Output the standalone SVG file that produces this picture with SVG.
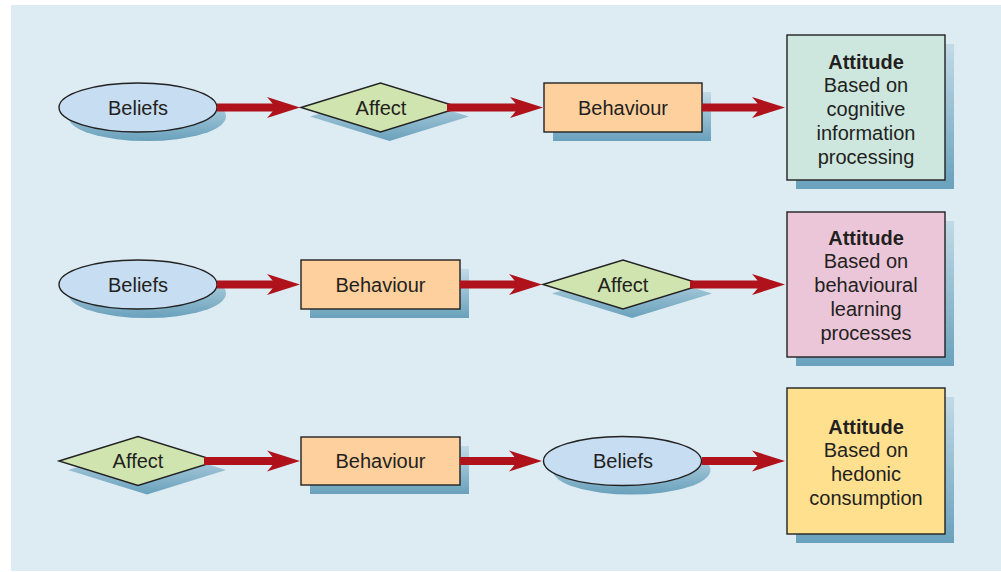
<svg xmlns="http://www.w3.org/2000/svg" width="1001" height="572" viewBox="0 0 1001 572">
<defs>
<linearGradient id="sh" x1="0" y1="0" x2="0" y2="1">
<stop offset="0" stop-color="#C2DAE6"/>
<stop offset="1" stop-color="#69A1BC"/>
</linearGradient>
<marker id="ah" markerUnits="userSpaceOnUse" markerWidth="36" markerHeight="26" viewBox="-34 -13 36 26" refX="-22" refY="0" orient="auto">
<path d="M0,0 L-33,-10.5 Q-27,-4 -25,0 Q-27,4 -33,10.5 Z" fill="#B0121B"/>
</marker>
<style>
.sh{fill:url(#sh)}
.nd{stroke:#222;stroke-width:1.4}
.el{fill:#C7DDF2}
.di{fill:#CFE4AE}
.bh{fill:#FED09E}
.a1{fill:#CDE7DF}
.a2{fill:#EBC6D8}
.a3{fill:#FFE08F}
text{font-family:"Liberation Sans",Arial,sans-serif;font-size:20px;fill:#231F20;text-anchor:middle}
.b{font-weight:bold}
.cn{stroke:#B0121B;stroke-width:8;fill:none;marker-end:url(#ah)}
</style>
</defs>
<rect x="11" y="5" width="990" height="566" fill="#DDEBF2"/>

<!-- Row 1 -->
<g id="r1-beliefs">
<ellipse class="sh" cx="147" cy="116.5" rx="79" ry="24.5"/>
<ellipse class="nd el" cx="138" cy="107.5" rx="79" ry="24.5"/>
<text x="138" y="114.5">Beliefs</text>
</g>
<g id="r1-affect">
<polygon class="sh" points="310,116.5 389.5,92 469,116.5 389.5,141"/>
<polygon class="nd di" points="301,107.5 380.5,83 460,107.5 380.5,132"/>
<text x="381" y="114.5">Affect</text>
</g>
<g id="r1-behaviour">
<rect class="sh" x="553" y="92" width="158" height="49"/>
<rect class="nd bh" x="544" y="83" width="158" height="49"/>
<text x="623" y="114.5">Behaviour</text>
</g>
<g id="r1-attitude">
<rect class="sh" x="796" y="44" width="158" height="145"/>
<rect class="nd a1" x="787" y="35" width="158" height="145"/>
<text x="866" y="68.5" class="b">Attitude</text>
<text x="866" y="92">Based on</text>
<text x="866" y="116">cognitive</text>
<text x="866" y="140">information</text>
<text x="866" y="164">processing</text>
</g>

<!-- Row 2 -->
<g id="r2-beliefs">
<ellipse class="sh" cx="147" cy="293.5" rx="79" ry="24.5"/>
<ellipse class="nd el" cx="138" cy="284.5" rx="79" ry="24.5"/>
<text x="138" y="291.5">Beliefs</text>
</g>
<g id="r2-behaviour">
<rect class="sh" x="310" y="269" width="159" height="49"/>
<rect class="nd bh" x="301" y="260" width="159" height="49"/>
<text x="380.5" y="291.5">Behaviour</text>
</g>
<g id="r2-affect">
<polygon class="sh" points="552,293.5 632,269 712,293.5 632,318"/>
<polygon class="nd di" points="543,284.5 623,260 703,284.5 623,309"/>
<text x="623" y="291.5">Affect</text>
</g>
<g id="r2-attitude">
<rect class="sh" x="796" y="221" width="158" height="145"/>
<rect class="nd a2" x="787" y="212" width="158" height="145"/>
<text x="866" y="244.5" class="b">Attitude</text>
<text x="866" y="268">Based on</text>
<text x="866" y="292">behavioural</text>
<text x="866" y="316">learning</text>
<text x="866" y="340">processes</text>
</g>

<!-- Row 3 -->
<g id="r3-affect">
<polygon class="sh" points="68,470 147,445.5 226,470 147,494.5"/>
<polygon class="nd di" points="59,461 138,436.5 217,461 138,485.5"/>
<text x="138" y="468">Affect</text>
</g>
<g id="r3-behaviour">
<rect class="sh" x="310" y="446" width="159" height="48"/>
<rect class="nd bh" x="301" y="437" width="159" height="48"/>
<text x="380.5" y="468">Behaviour</text>
</g>
<g id="r3-beliefs">
<ellipse class="sh" cx="631.5" cy="470" rx="79" ry="24.5"/>
<ellipse class="nd el" cx="622.5" cy="461" rx="79" ry="24.5"/>
<text x="623" y="468">Beliefs</text>
</g>
<g id="r3-attitude">
<rect class="sh" x="796" y="397" width="158" height="146"/>
<rect class="nd a3" x="787" y="388" width="158" height="146"/>
<text x="866" y="433.5" class="b">Attitude</text>
<text x="866" y="457">Based on</text>
<text x="866" y="481">hedonic</text>
<text x="866" y="505">consumption</text>
</g>

<g id="connectors">
<line class="cn" x1="217" y1="107.5" x2="278" y2="107.5"/>
<line class="cn" x1="447" y1="107.5" x2="521" y2="107.5"/>
<line class="cn" x1="702" y1="107.5" x2="763" y2="107.5"/>
<line class="cn" x1="217" y1="284.5" x2="278" y2="284.5"/>
<line class="cn" x1="460" y1="284.5" x2="520" y2="284.5"/>
<line class="cn" x1="690" y1="284.5" x2="763" y2="284.5"/>
<line class="cn" x1="204" y1="461" x2="278" y2="461"/>
<line class="cn" x1="460" y1="461" x2="520" y2="461"/>
<line class="cn" x1="702" y1="461" x2="763" y2="461"/>
</g>
</svg>
